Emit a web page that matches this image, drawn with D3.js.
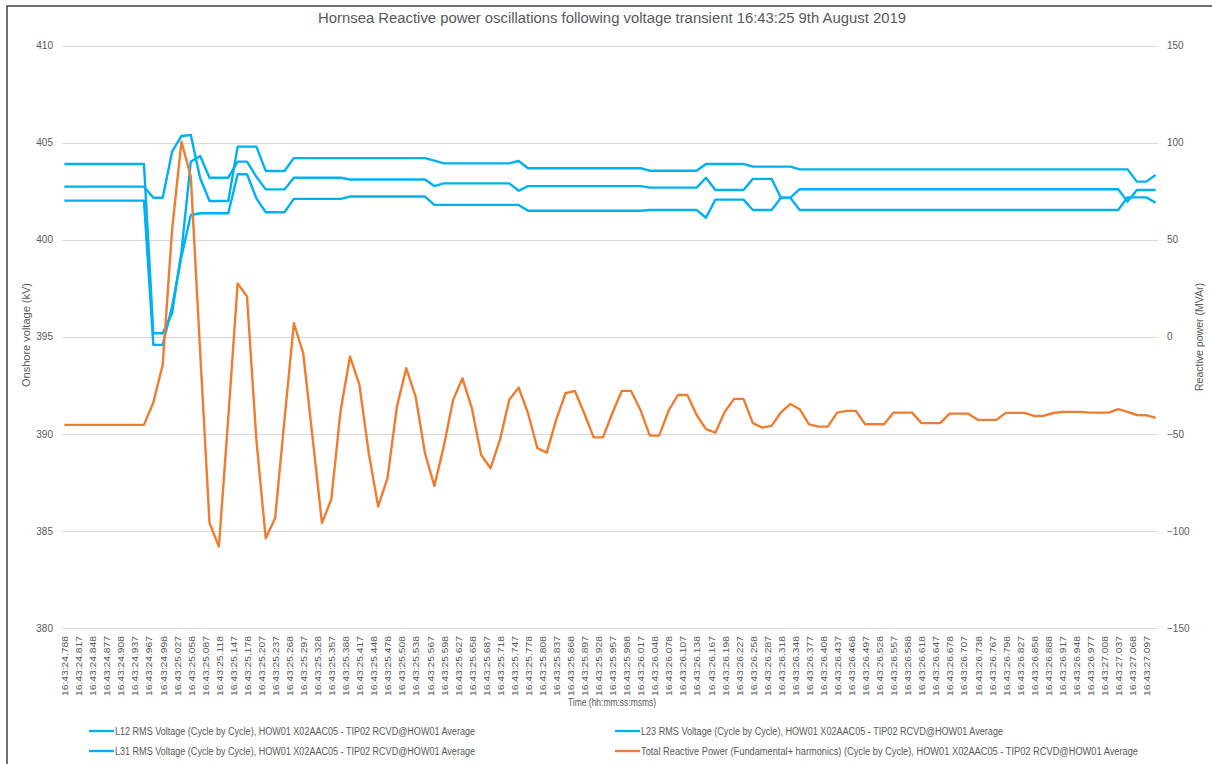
<!DOCTYPE html>
<html><head><meta charset="utf-8">
<script src="https://cdn.jsdelivr.net/npm/d3@7"></script>
<style>
body{margin:0;background:#fff;}
svg{display:block;font-family:"Liberation Sans","Noto Sans",Arial,sans-serif;}
</style></head>
<body><svg id="c" width="1212" height="764"></svg>
<script>
// ---------- data ----------
const title = "Hornsea Reactive power oscillations following voltage transient 16:43:25 9th August 2019";
const timeLabels = ["16:43:24.788","16:43:24.817","16:43:24.848","16:43:24.877","16:43:24.908","16:43:24.937","16:43:24.967","16:43:24.998",
"16:43:25.027","16:43:25.058","16:43:25.087","16:43:25.118","16:43:25.147","16:43:25.178","16:43:25.207","16:43:25.237","16:43:25.268",
"16:43:25.297","16:43:25.328","16:43:25.357","16:43:25.388","16:43:25.417","16:43:25.448","16:43:25.478","16:43:25.508","16:43:25.538",
"16:43:25.567","16:43:25.598","16:43:25.627","16:43:25.658","16:43:25.687","16:43:25.718","16:43:25.747","16:43:25.778","16:43:25.808",
"16:43:25.837","16:43:25.868","16:43:25.897","16:43:25.928","16:43:25.957","16:43:25.988","16:43:26.017","16:43:26.048","16:43:26.078",
"16:43:26.107","16:43:26.138","16:43:26.167","16:43:26.198","16:43:26.227","16:43:26.258","16:43:26.287","16:43:26.318","16:43:26.348",
"16:43:26.377","16:43:26.408","16:43:26.437","16:43:26.468","16:43:26.497","16:43:26.528","16:43:26.557","16:43:26.588","16:43:26.618",
"16:43:26.647","16:43:26.678","16:43:26.707","16:43:26.738","16:43:26.767","16:43:26.798","16:43:26.827","16:43:26.858","16:43:26.888",
"16:43:26.917","16:43:26.948","16:43:26.977","16:43:27.008","16:43:27.037","16:43:27.068","16:43:27.097"];
const leftTicks = [380,385,390,395,400,405,410];
const rightTicks = [-150,-100,-50,0,50,100,150];
const seriesNames = [
 "L12 RMS Voltage (Cycle by Cycle), HOW01 X02AAC05 - TIP02 RCVD@HOW01 Average",
 "L23 RMS Voltage (Cycle by Cycle), HOW01 X02AAC05 - TIP02 RCVD@HOW01 Average",
 "L31 RMS Voltage (Cycle by Cycle), HOW01 X02AAC05 - TIP02 RCVD@HOW01 Average",
 "Total Reactive Power (Fundamental+ harmonics) (Cycle by Cycle), HOW01 X02AAC05 - TIP02 RCVD@HOW01 Average"];
// cycle-by-cycle samples (kV), one per 20 ms
const l12 = [402.73,402.73,402.73,402.73,402.73,402.73,402.73,402.73,402.73,402.16,402.16,404.53,405.34,405.39,403.16,401.99,401.99,401.99,
404.79,404.79,404.79,403.54,403.54,403.54,
404.2,404.2,404.2,404.2,404.2,404.2,404.2,404.2,404.2,404.2,404.2,404.2,404.2,404.2,404.2,
404.07,403.93,403.93,403.93,403.93,403.93,403.93,403.93,403.93,404.05,
403.68,403.68,403.68,403.68,403.68,403.68,403.68,403.68,403.68,403.68,403.68,403.68,403.68,
403.55,403.55,403.55,403.55,403.55,403.55,403.9,403.9,403.9,403.9,403.9,403.76,403.76,403.76,403.76,403.76,
403.62,403.62,403.62,403.62,403.62,403.62,403.62,403.62,403.62,403.62,403.62,403.62,403.62,403.62,403.62,403.62,403.62,403.62,
403.62,403.62,403.62,403.62,403.62,403.62,403.62,403.62,403.62,403.62,403.62,403.62,403.62,403.62,403.62,403.62,403.62,403.62,
402.99,402.99,403.33];
const l23 = [403.9,403.9,403.9,403.9,403.9,403.9,403.9,403.9,403.9,395.18,395.18,396.21,399.38,404.02,404.31,403.19,403.19,403.19,
404.02,404.02,403.24,402.59,402.59,402.59,403.19,403.19,403.19,403.19,403.19,403.19,
403.1,403.1,403.1,403.1,403.1,403.1,403.1,403.1,403.1,402.76,402.9,402.9,402.9,402.9,402.9,402.9,402.9,402.9,402.52,
402.76,402.76,402.76,402.76,402.76,402.76,402.76,402.76,402.76,402.76,402.76,402.76,402.76,
402.68,402.68,402.68,402.68,402.68,402.68,403.19,402.56,402.56,402.56,402.56,403.13,403.13,403.13,402.16,402.16,
402.6,402.6,402.6,402.6,402.6,402.6,402.6,402.6,402.6,402.6,402.6,402.6,402.6,402.6,402.6,402.6,402.6,402.6,
402.6,402.6,402.6,402.6,402.6,402.6,402.6,402.6,402.6,402.6,402.6,402.6,402.6,402.6,402.6,402.6,402.6,
401.96,402.56,402.56,402.56];
const l31 = [402.01,402.01,402.01,402.01,402.01,402.01,402.01,402.01,402.01,394.58,394.58,396.55,399.12,401.27,401.36,401.36,401.36,401.36,
403.37,403.37,402.13,401.41,401.41,401.41,402.1,402.1,402.1,402.1,402.1,402.1,
402.22,402.22,402.22,402.22,402.22,402.22,402.22,402.22,402.22,
401.79,401.79,401.79,401.79,401.79,401.79,401.79,401.79,401.79,401.79,
401.49,401.49,401.49,401.49,401.49,401.49,401.49,401.49,401.49,401.49,401.49,401.49,401.49,
401.53,401.53,401.53,401.53,401.53,401.53,401.13,402.06,402.06,402.06,402.06,401.53,401.53,401.53,402.16,402.16,
401.53,401.53,401.53,401.53,401.53,401.53,401.53,401.53,401.53,401.53,401.53,401.53,401.53,401.53,401.53,401.53,401.53,401.53,
401.53,401.53,401.53,401.53,401.53,401.53,401.53,401.53,401.53,401.53,401.53,401.53,401.53,401.53,401.53,401.53,401.53,
402.18,402.18,402.18,401.9];
// reactive power samples (MVAr)
const qTotal = [-45.4,-45.4,-45.4,-45.4,-45.4,-45.4,-45.4,-45.4,-45.4,-33.9,-14.5,55,100.5,82.5,-8,-96,-108,-41.8,27.5,20.7,
-53.1,-103.8,-93.5,-42.8,7,-8.5,-52,-96,-83.7,-37.7,-10.2,-24.8,-60,-87.5,-72.7,-36,-16.2,-30.8,-60,-76.8,
-56.6,-32.5,-21.4,-36.8,-60.9,-67.7,-53.1,-32.5,-26.2,-39.4,-57.4,-59.7,-42.8,-29.1,-27.9,-39.4,-51.8,-51.8,-39.4,-27.9,
-27.9,-37.7,-50.9,-50.9,-38.1,-30,-30,-40.3,-47.6,-49.4,-38.6,-32,-32,-44.5,-46.8,-45.9,-38.9,-34.6,-37.3,-45.1,
-46.3,-46.3,-39.1,-38.2,-38.2,-45.1,-45.1,-45.1,-39.1,-39.1,-39.1,-44.5,-44.5,-44.5,-39.6,-39.6,-39.6,-42.8,-42.8,-42.8,
-39.2,-39.2,-39.2,-40.8,-40.8,-39.4,-38.7,-38.7,-38.7,-39.1,-39.1,-39.1,-37.3,-38.7,-40.3,-40.4,-41.8];

// ---------- layout ----------
const svg = d3.select("#c");
const M = {left:62, right:1158, top:45.5, bottom:628};
const nCats = 234;                 // 10 ms categories
const x = d3.scaleLinear().domain([-0.5, nCats-0.5]).range([M.left, M.right]);
const yL = d3.scaleLinear().domain([380,410]).range([M.bottom, M.top]);
const yR = d3.scaleLinear().domain([-150,150]).range([M.bottom, M.top]);
const txt = "#595959";

svg.append("rect").attr("x",7).attr("y",6).attr("width",1300).attr("height",900)
  .attr("fill","none").attr("stroke","#404040").attr("stroke-width",1.5);

// gridlines
svg.append("g").selectAll("line").data(leftTicks).join("line")
  .attr("x1",M.left).attr("x2",M.right)
  .attr("y1",d=>Math.round(yL(d))+0.5).attr("y2",d=>Math.round(yL(d))+0.5)
  .attr("stroke","#d9d9d9").attr("stroke-width",1);

// left axis
const gL = svg.append("g").attr("transform",`translate(${M.left},0)`)
  .call(d3.axisLeft(yL).tickValues(leftTicks).tickSize(0).tickPadding(9));
gL.select(".domain").remove();
gL.selectAll("text").attr("fill",txt).style("font-size","10px");

// right axis
const gR = svg.append("g").attr("transform",`translate(${M.right},0)`)
  .call(d3.axisRight(yR).tickValues(rightTicks).tickSize(0).tickPadding(9));
gR.select(".domain").remove();
gR.selectAll("text").attr("fill",txt).style("font-size","10px");

// x axis
const labelCats = timeLabels.map((t,i)=>i*3);
const gX = svg.append("g").attr("transform",`translate(0,${M.bottom})`)
  .call(d3.axisBottom(x).tickValues(labelCats).tickFormat((d,i)=>timeLabels[i]).tickSize(0));
gX.select(".domain").remove();
gX.selectAll("text").attr("fill",txt).style("font-size","9.5px")
  .attr("text-anchor","end").attr("transform","rotate(-90)")
  .attr("x",-8).attr("y",0).attr("dy","0.35em")
  .attr("textLength",60).attr("lengthAdjust","spacingAndGlyphs");

// axis titles
svg.append("text").attr("x",612).attr("y",23).attr("text-anchor","middle")
  .attr("fill",txt).style("font-size","14px").attr("textLength",588).attr("lengthAdjust","spacingAndGlyphs").text(title);
svg.append("text").attr("transform","translate(30,335) rotate(-90)").attr("text-anchor","middle")
  .attr("fill",txt).style("font-size","10px").attr("textLength",104).attr("lengthAdjust","spacingAndGlyphs").text("Onshore voltage (kV)");
svg.append("text").attr("transform","translate(1203,337) rotate(-90)").attr("text-anchor","middle")
  .attr("fill",txt).style("font-size","10px").attr("textLength",108).attr("lengthAdjust","spacingAndGlyphs").text("Reactive power (MVAr)");
svg.append("text").attr("x",612).attr("y",706).attr("text-anchor","middle")
  .attr("fill",txt).style("font-size","10px").attr("textLength",88).attr("lengthAdjust","spacingAndGlyphs").text("Time (hh:mm:ss:msms)");

// lines
function pts(vals){ // sample i sits at odd category 2i+1; trace begins at category 0
  return [{c:0,v:vals[0]}].concat(vals.map((v,i)=>({c:2*i+1,v})));
}
const blue = "#00B0F0", orange = "#ED7D31";
const lineL = d3.line().x(d=>x(d.c)).y(d=>yL(d.v));
const lineR = d3.line().x(d=>x(d.c)).y(d=>yR(d.v));
[l12,l23,l31].forEach(s=>{
  svg.append("path").datum(pts(s)).attr("d",lineL).attr("fill","none")
    .attr("stroke",blue).attr("stroke-width",2.4).attr("stroke-linejoin","round");
});
svg.append("path").datum(pts(qTotal)).attr("d",lineR).attr("fill","none")
  .attr("stroke",orange).attr("stroke-width",2.4).attr("stroke-linejoin","round");

// legend
const legend = [
  {name:seriesNames[0], color:blue, x:89, y:731, len:360},
  {name:seriesNames[1], color:blue, x:615, y:731, len:362},
  {name:seriesNames[2], color:blue, x:89, y:751, len:360},
  {name:seriesNames[3], color:orange, x:615, y:751, len:497}];
const lg = svg.append("g").selectAll("g").data(legend).join("g")
  .attr("transform",d=>`translate(${d.x},${d.y})`);
lg.append("line").attr("x1",0).attr("x2",25).attr("y1",0).attr("y2",0)
  .attr("stroke",d=>d.color).attr("stroke-width",2.4);
lg.append("text").attr("x",26).attr("y",0).attr("dy","0.35em").attr("fill",txt)
  .style("font-size","10px").attr("textLength",d=>d.len).attr("lengthAdjust","spacingAndGlyphs").text(d=>d.name);
</script></body></html>
